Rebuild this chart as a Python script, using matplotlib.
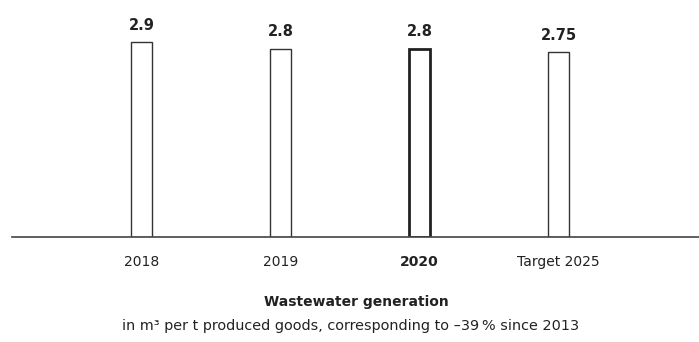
import matplotlib.pyplot as plt

# Wastewater generation per year
years = ["2018", "2019", "2020", "Target 2025"]
values = [2.9, 2.8, 2.8, 2.75]
value_labels = ["2.9", "2.8", "2.8", "2.75"]
highlight = "2020"

plt.rcParams['font.family'] = ['DejaVu Sans']
text_color = '#222222'

fig = plt.figure(figsize=(6.99, 3.42), dpi=100)
# axes: left edge at x=12px, baseline at y=237px
ax = fig.add_axes([12 / 699, (342 - 237) / 342, (699 - 12) / 699, 230 / 342])

x = list(range(len(years)))
for xi, year, v, lab in zip(x, years, values, value_labels):
    bold = year == highlight
    ax.bar(xi, v, width=0.15, facecolor='white', edgecolor='#222222' if bold else '#333333',
           linewidth=2.0 if bold else 1.0, zorder=2)
    ax.text(xi, v + 0.14, lab, ha='center', va='bottom', fontsize=10.5,
            fontweight='bold', color=text_color)

ax.set_xlim(-0.93, 4.01)
ax.set_ylim(0, 230 / 67.2)
ax.set_xticks(x)
ax.set_xticklabels(years, fontsize=10, color=text_color)
for lbl in ax.get_xticklabels():
    if lbl.get_text() == highlight:
        lbl.set_fontweight('bold')
ax.tick_params(axis='x', length=0, pad=13)
ax.set_yticks([])
for side in ['top', 'right', 'left']:
    ax.spines[side].set_visible(False)
ax.spines['bottom'].set_color('#444444')
ax.spines['bottom'].set_linewidth(1.2)

fig.text(356 / 699, 1 - 302 / 342, "Wastewater generation", ha='center', va='center',
         fontsize=10, fontweight='bold', color=text_color)
fig.text(351 / 699, 1 - 326 / 342,
         "in m³ per t produced goods, corresponding to \u201339\u2009% since 2013",
         ha='center', va='center', fontsize=10.4, color=text_color)

fig.savefig('out.png', dpi=100)
